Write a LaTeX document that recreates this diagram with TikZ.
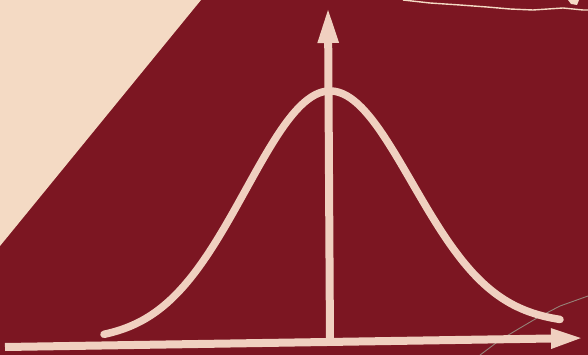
\documentclass[tikz,border=0pt]{standalone}
\usetikzlibrary{arrows.meta}
\definecolor{bgred}{RGB}{124,22,34}
\definecolor{paper}{RGB}{244,218,196}
\definecolor{chalk}{RGB}{240,208,192}
\definecolor{crack}{RGB}{150,130,120}
\tikzset{
  axisline/.style={draw=chalk, line width=8pt},
  bellcurve/.style={draw=chalk, line width=7.5pt, line cap=round, line join=round},
}
\begin{document}
\begin{tikzpicture}[x=1pt,y=-1pt]
\useasboundingbox (0,0) rectangle (588,355);
\fill[bgred] (0,0) rectangle (588,355);
\fill[paper] (0,0) -- (201,0) -- (0,246) -- cycle;
% torn edge at top
\draw[paper, line width=1.4pt] (403,0) -- (430,3) -- (460,5) -- (487,7) -- (510,9) -- (533,10) -- (563,8) -- (583,10) -- (588,10);
\fill[paper] (568,0) -- (579,0) -- (577,5) -- (571,4) -- cycle;
% crack at bottom right
\draw[crack, line width=0.9pt] (480,355) -- (500,340) -- (520,328) -- (537,318) -- (560,306) -- (588,296);
% axes
\coordinate (xs) at (5,347);
\coordinate (xe) at (584,338);
\coordinate (ys) at (330,343);
\coordinate (ye) at (328,7);
\draw[axisline, -{Triangle[length=36pt,width=19pt]}] (ys) -- (ye);
\draw[axisline, -{Triangle[length=33pt,width=18pt]}] (xs) -- (xe);
% bell curve
\draw[bellcurve]
  plot[domain=-226:0, samples=80] ({330+\x}, {91+250*(1-exp(-0.5*(\x/84)^2))})
  -- plot[domain=0:230, samples=80] ({330+\x}, {91+233*(1-exp(-0.5*(\x/82)^2))});
\end{tikzpicture}
\end{document}
